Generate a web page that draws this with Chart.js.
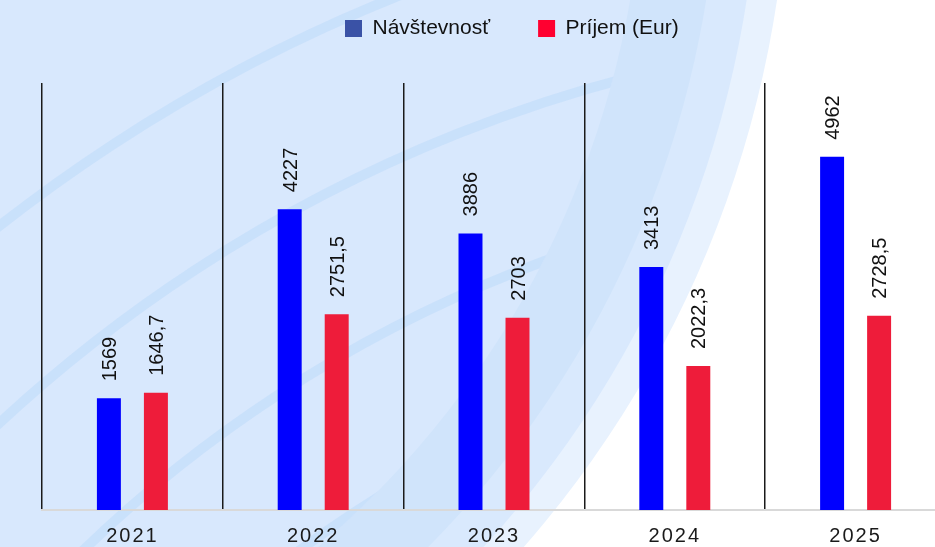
<!DOCTYPE html>
<html>
<head>
<meta charset="utf-8">
<script src="https://cdn.jsdelivr.net/npm/chart.js@4"></script>
<style>
  html, body { margin: 0; padding: 0; overflow: hidden; background: #fff; }
  #wrap { width: 950px; height: 547px; }
</style>
</head>
<body>
<div id="wrap"><canvas id="visitChart" width="950" height="547"></canvas></div>
<script>
// data
const years = ['2021', '2022', '2023', '2024', '2025'];
const visits = [1569, 4227, 3886, 3413, 4962];
const income = [1646.7, 2751.5, 2703, 2022.3, 2728.5];
const seriesNames = ['Návštevnosť', 'Príjem (Eur)'];
const yMax = 6000;

const FONT = "'Liberation Sans', Arial, sans-serif";
const barColors = ['#0000ff', '#ee1c3a'];
const legendColors = ['#3a52a6', '#ff0030'];

const fmt = v => String(v).replace('.', ',');

// ===== background swoosh =====
const backgroundPlugin = {
  id: 'swoosh',
  beforeDraw(chart) {
    const ctx = chart.ctx;
    const w = chart.width, h = chart.height;
    const cx = -286, cy = -160;
    ctx.save();
    ctx.fillStyle = '#ffffff';
    ctx.fillRect(0, 0, w, h);
    const bands = [
      [1075, '#e8f2fe'],
      [1045, '#d9e9fd'],
      [1005, '#d0e4fb'],
      [930, '#d8e8fd']
    ];
    bands.forEach(([r, c]) => {
      ctx.beginPath();
      ctx.arc(cx, cy, r, 0, Math.PI * 2);
      ctx.fillStyle = c;
      ctx.fill();
    });
    // faint streaks, only inside the swoosh
    ctx.beginPath();
    ctx.arc(cx, cy, 930, 0, Math.PI * 2);
    ctx.clip();
    [1180, 1320, 1470, 1620].forEach(r => {
      ctx.beginPath();
      ctx.arc(1000, 1500, r, Math.PI, Math.PI * 1.6);
      ctx.strokeStyle = 'rgba(190,218,250,0.55)';
      ctx.lineWidth = 10;
      ctx.stroke();
    });
    ctx.restore();
  }
};

// ===== letter spacing on ticks + legend placement =====
const tweaks = {
  id: 'tweaks',
  beforeUpdate(chart) { chart.ctx.letterSpacing = '0px'; },
  afterUpdate(chart) {
    const lg = chart.legend;
    if (!lg || !lg.legendHitBoxes.length) return;
    const hb = lg.legendHitBoxes[0];
    const dx = 345 - hb.left;
    const dy = 20 - (hb.top + 2);
    lg.left += dx; lg.right += dx;
    lg.top += dy; lg.bottom += dy;
    if (!lg._wrapped) {
      const orig = lg.draw;
      lg.draw = function (...args) {
        const c = chart.ctx;
        c.letterSpacing = '0px';
        orig.apply(this, args);
        c.letterSpacing = '2px';
      };
      lg._wrapped = true;
    }
  },
  beforeDraw(chart) { chart.ctx.letterSpacing = '2px'; }
};

// ===== rotated value labels =====
const valueLabels = {
  id: 'valueLabels',
  afterDatasetsDraw(chart) {
    const ctx = chart.ctx;
    ctx.save();
    ctx.letterSpacing = '0px';
    ctx.font = '20px ' + FONT;
    ctx.fillStyle = '#111';
    ctx.textAlign = 'left';
    ctx.textBaseline = 'alphabetic';
    chart.data.datasets.forEach((ds, i) => {
      chart.getDatasetMeta(i).data.forEach((bar, j) => {
        ctx.save();
        ctx.translate(bar.x, bar.y - 17);
        ctx.rotate(-Math.PI / 2);
        ctx.fillText(fmt(ds.data[j]), 0, 7);
        ctx.restore();
      });
    });
    ctx.restore();
  }
};

const ctx1 = document.getElementById('visitChart').getContext('2d');
const visitChart = new Chart(ctx1, {
  type: 'bar',
  data: {
    labels: years,
    datasets: [
      { label: seriesNames[0], data: visits, backgroundColor: barColors[0] },
      { label: seriesNames[1], data: income, backgroundColor: barColors[1] }
    ]
  },
  options: {
    responsive: false,
    animation: false,
    devicePixelRatio: 1,
    categoryPercentage: 0.52,
    barPercentage: 0.51,
    layout: { padding: { top: 4, left: 42, right: 4, bottom: -15 } },
    plugins: {
      tooltip: { enabled: false },
      legend: {
        position: 'top',
        labels: {
          color: '#111',
          font: { family: FONT, size: 21 },
          boxWidth: 17,
          boxHeight: 17,
          padding: 48,
          generateLabels(chart) {
            const items = Chart.defaults.plugins.legend.labels.generateLabels(chart);
            items.forEach((it, i) => {
              it.fillStyle = legendColors[i];
              it.strokeStyle = legendColors[i];
              it.lineWidth = 0;
            });
            return items;
          }
        }
      }
    },
    scales: {
      x: {
        grid: { offset: true, color: '#1a1a1a', lineWidth: 1.5, drawTicks: false },
        border: { display: true, color: '#d9d9d9', width: 2 },
        ticks: { color: '#1a1a1a', font: { family: FONT, size: 20 }, padding: 14 }
      },
      y: { display: false, min: 0, max: yMax }
    }
  },
  plugins: [backgroundPlugin, tweaks, valueLabels]
});
</script>
</body>
</html>
